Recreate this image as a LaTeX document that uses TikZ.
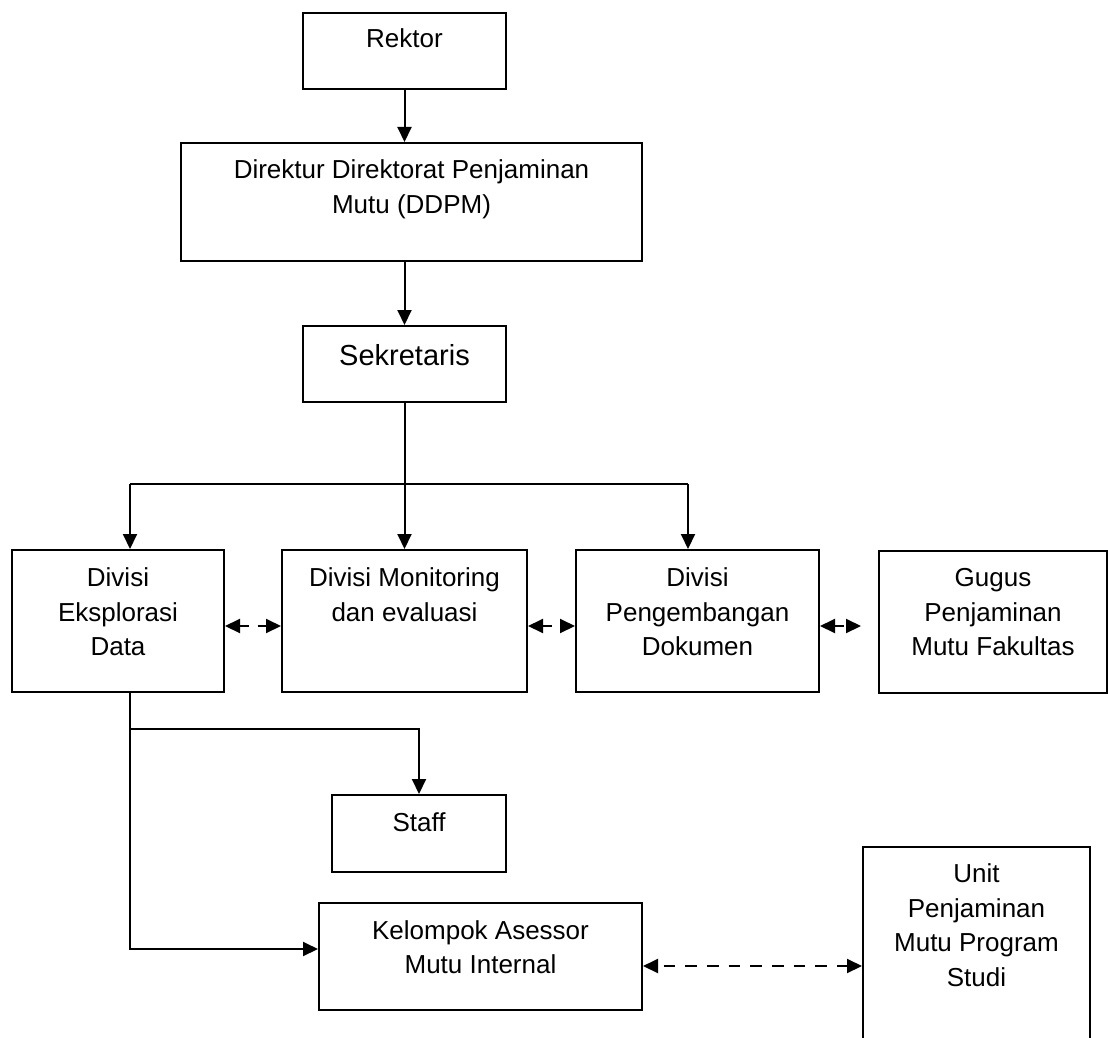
\documentclass[tikz,border=0pt]{standalone}
\usepackage{fontspec}
\setmainfont{Liberation Sans}
\usetikzlibrary{arrows.meta}
\newcommand{\bxt}[4]{\parbox[c][#2pt][t]{#1pt}{\centering\rule{0pt}{#3pt}#4}}
\tikzset{
  box/.style={draw, line width=2pt, inner sep=0pt, anchor=north west,
    font=\fontsize{26}{34.6}\selectfont},
  bigbox/.style={box, font=\fontsize{29}{35}\selectfont},
  conn/.style={line width=2pt},
  arr/.style={conn, -{Triangle[width=14pt,length=15pt]}},
  darr/.style={conn, {Triangle[width=14pt,length=15pt]}-{Triangle[width=14pt,length=15pt]},
    dash pattern=on 9pt off 9pt},
  darrlong/.style={conn, {Triangle[width=14pt,length=15pt]}-{Triangle[width=14pt,length=15pt]},
    dash pattern=on 11.7pt off 10pt, dash phase=15.7pt},
}
\begin{document}
\begin{tikzpicture}[x=1pt,y=-1pt]
\useasboundingbox (0,0) rectangle (1108,1038);
\fill[white] (0,0) rectangle (1108,1038);
\clip (0,0) rectangle (1108,1038);

% boxes
\node[box] (rek) at (302,12) {\bxt{203}{76}{34.7}{Rektor}};
\node[box] (ddpm) at (180,142) {\bxt{461}{118}{35.7}{Direktur Direktorat Penjaminan\\Mutu (DDPM)}};
\node[bigbox] (sek) at (302,325) {\bxt{203}{76}{39}{Sekretaris}};
\node[box] (eks) at (11,549) {\bxt{212}{142}{36.7}{Divisi\\Eksplorasi\\Data}};
\node[box] (mon) at (281,549) {\bxt{245}{142}{36.7}{Divisi Monitoring\\dan evaluasi}};
\node[box] (pen) at (575,549) {\bxt{243}{142}{36.7}{Divisi\\Pengembangan\\Dokumen}};
\node[box] (gug) at (878,550) {\bxt{228}{142}{35.5}{Gugus\\Penjaminan\\Mutu Fakultas}};
\node[box] (staff) at (331,794) {\bxt{174}{77}{36}{Staff}};
\node[box] (kel) at (318,902) {\bxt{323}{107}{36.3}{Kelompok Asessor\\Mutu Internal}};
\node[box] (unit) at (862,846) {\bxt{227}{260}{35.7}{Unit\\Penjaminan\\Mutu Program\\Studi}};

% helper coordinates
\coordinate (busL) at (130,484);
\coordinate (busR) at (688,484);
\coordinate (y626) at (0,626);
\coordinate (y949) at (0,949);
\coordinate (y966) at (0,966);
\coordinate (brS) at (130,729);
\coordinate (eksB) at (busL |- eks.south);
\coordinate (kelIn) at (kel.west |- y949);
\coordinate (gEnd) at (861,626);

% top chain
\draw[arr] (rek.south) -- (rek.south |- ddpm.north);
\draw[arr] (sek.north |- ddpm.south) -- (sek.north);
\draw[arr] (sek.south) -- (mon.north);
\draw[conn] (busL) -- (busR);
\draw[arr] (busL) -- (busL |- eks.north);
\draw[arr] (busR) -- (busR |- pen.north);

% lower branches
\draw[arr] (eksB) |- (kelIn);
\draw[arr] (brS) -| (staff.north);

% dashed relations
\draw[darr] (eks.east |- y626) -- (mon.west |- y626);
\draw[darr] (mon.east |- y626) -- (pen.west |- y626);
\draw[darr] (pen.east |- y626) -- (gEnd);
\draw[darrlong] (kel.east |- y966) -- (unit.west |- y966);
\end{tikzpicture}
\end{document}
